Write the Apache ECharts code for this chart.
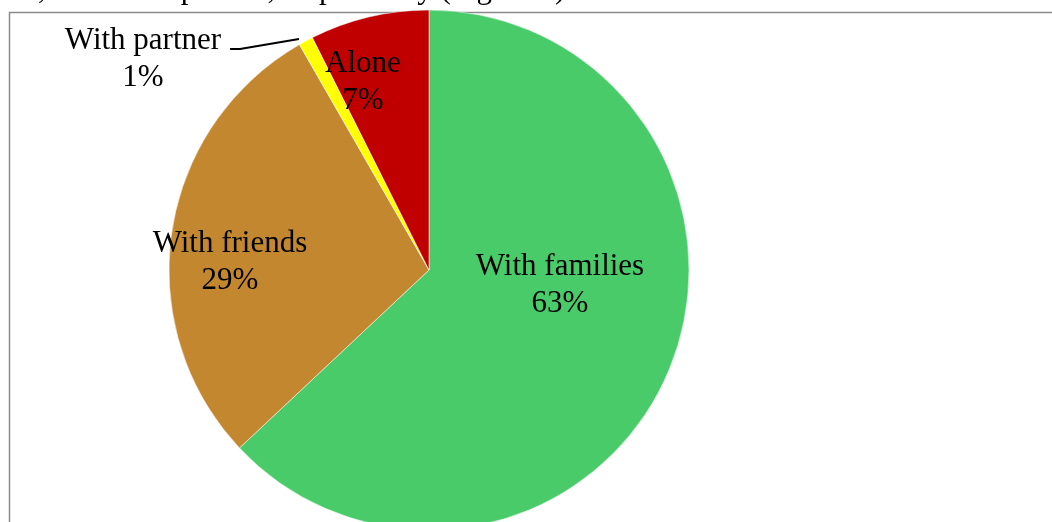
<!DOCTYPE html>
<html>
<head>
<meta charset="utf-8">
<script src="https://cdn.jsdelivr.net/npm/echarts@6/dist/echarts.min.js"></script>
<style>
html,body{margin:0;padding:0;background:#fff;}
#chart{width:1052px;height:522px;}
</style>
</head>
<body>
<div id="chart"></div>
<script>
// Data
var categories = ['With families', 'With friends', 'With partner', 'Alone'];
var values = [63.0, 28.7, 0.9, 7.4];
var colors = ['#4ACB6A', '#C2872F', '#FFFF00', '#C00000'];

// Label placement (style, px)
var labelPos = [[560, 285], [230, 262], [143, 59], [363, 82]];
var leaderLine = [[230, 49], [240, 49], [299, 39]];
var FONT = '"Liberation Serif", "Times New Roman", serif';

var chart = echarts.init(document.getElementById('chart'), null, {renderer: 'canvas'});
var option = {
  animation: false,
  backgroundColor: '#fff',
  graphic: [
    {type: 'rect', shape: {x: 9.5, y: 12.5, width: 1100, height: 600}, style: {fill: 'none', stroke: '#8a8a8a', lineWidth: 1.5}, z: 0},
    {type: 'text', x: 573, y: 5, style: {text: 'es, friends, alone and partner, respectively (Figure.3).', font: '31px ' + FONT, fill: '#000', textAlign: 'right', textVerticalAlign: 'bottom'}, z: 10},
    {type: 'polyline', shape: {points: leaderLine}, style: {stroke: '#000', lineWidth: 1.8, fill: 'none'}, z: 10}
  ],
  series: [{
    type: 'pie',
    center: [429, 270],
    radius: [0, 260],
    startAngle: 90,
    clockwise: true,
    percentPrecision: 0,
    avoidLabelOverlap: false,
    data: categories.map(function (c, i) {
      return {name: c, value: values[i], itemStyle: {color: colors[i]}};
    }),
    itemStyle: {borderColor: '#fff', borderWidth: 0.5},
    label: {
      show: true,
      position: 'inside',
      formatter: '{b}\n{d}%',
      fontFamily: FONT,
      fontSize: 31,
      lineHeight: 37,
      color: '#000',
      align: 'center'
    },
    labelLine: {show: false},
    labelLayout: function (p) {
      var pos = labelPos[p.dataIndex];
      return {x: pos[0], y: pos[1], align: 'center', verticalAlign: 'middle'};
    },
    emphasis: {disabled: true}
  }]
};
chart.setOption(option);
</script>
</body>
</html>
